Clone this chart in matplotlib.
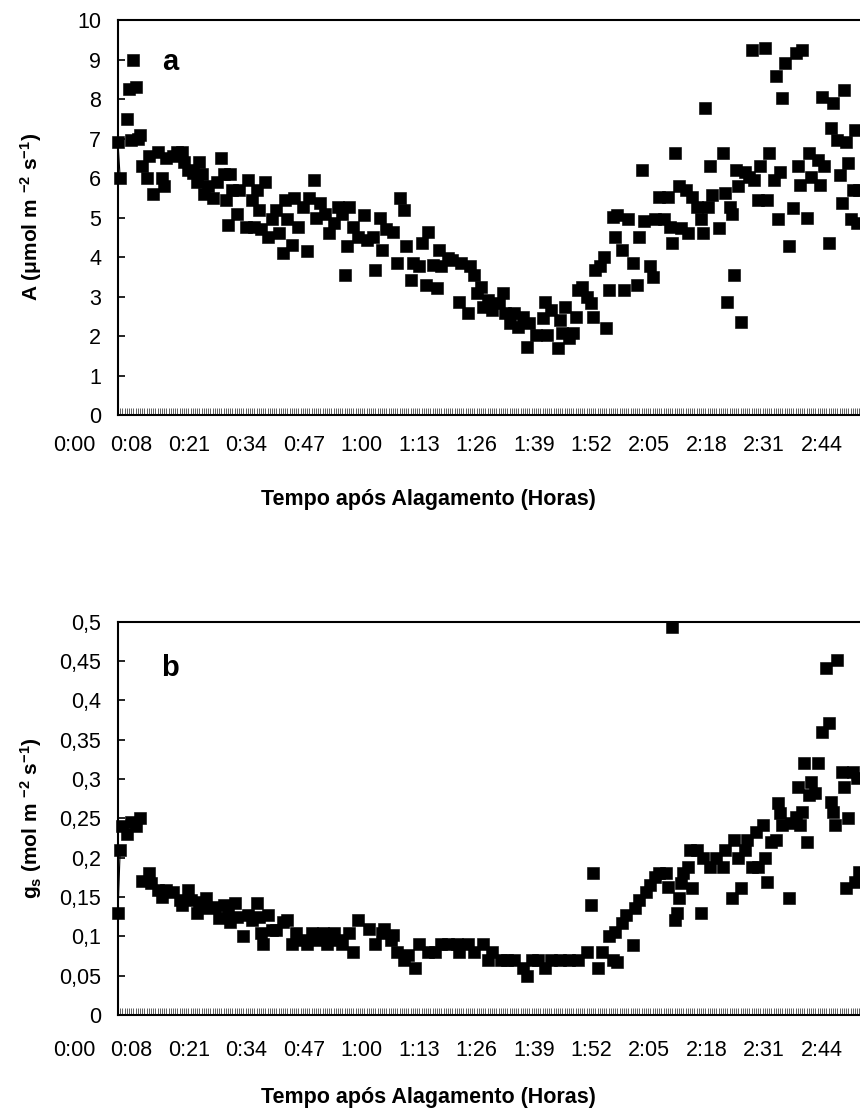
import matplotlib
matplotlib.use('Agg')
import matplotlib.pyplot as plt
import matplotlib.transforms as mtransforms
from matplotlib.ticker import MultipleLocator, FixedLocator

plt.rcParams.update({
    'font.family': 'Liberation Sans',
    'mathtext.fontset': 'custom',
    'mathtext.rm': 'Liberation Sans:bold',
    'mathtext.bf': 'Liberation Sans:bold',
    'mathtext.default': 'bf',
})

# ── data: sample index (30 s steps) and readings ─────────────────────────────
a_idx = [0, 1, 4, 5, 6, 7, 8, 9, 10, 11, 13, 14, 16, 18, 20, 21, 22, 25, 27, 29,
         30, 32, 34, 36, 37, 38, 39, 41, 43, 45, 47, 48, 49, 50, 51, 52, 54, 55, 58, 59,
         61, 62, 63, 64, 65, 67, 68, 70, 72, 73, 75, 76, 77, 79, 80, 82, 84, 86, 87, 89,
         90, 92, 94, 96, 98, 100, 102, 103, 104, 105, 107, 109,
         112, 113, 116, 117, 119, 120, 122, 125, 127, 128, 130, 131, 133, 134, 137, 138,
         140, 141, 143, 145, 146, 147, 150, 152, 155, 156, 159, 160, 162, 163, 165, 166,
         168, 170, 173, 175, 176, 178, 180, 182, 184, 186, 187, 190, 193, 194, 195, 197,
         200, 201, 202, 203, 205, 207, 208, 209, 211, 213, 215, 216, 217, 219, 221, 222, 223,
         225, 226, 227, 229, 230, 232, 234, 236, 237, 238, 239, 242, 243, 244, 246, 248,
         250, 251, 252, 253, 255, 256, 258, 259, 261, 263, 265, 266, 267, 268, 269, 270,
         273, 275, 276, 277, 278, 279, 280, 281, 282, 283, 285, 287, 288, 289, 291, 292,
         294, 295, 296, 298, 299, 300, 301, 302, 303, 305, 307, 308, 309, 310, 311, 313,
         314, 315, 318, 319, 320, 321, 323, 324, 325, 327, 328, 329, 330, 331, 332, 333,
         334, 335, 336, 337]
a_val = [6.9, 6.0, 7.5, 8.25, 6.97, 9.0, 8.3, 7.0, 7.1, 6.3, 6.0, 6.55, 5.6, 6.67, 6.0, 5.8, 6.5, 6.55, 6.65, 6.67,
         6.4, 6.2, 6.13, 5.9, 6.4, 6.1, 5.6, 5.8, 5.5, 5.9, 6.5, 6.1, 5.45, 4.8, 6.1, 5.7, 5.1, 5.7, 4.77, 5.95,
         5.45, 4.77, 5.7, 5.2, 4.7, 5.9, 4.5, 4.95, 5.2, 4.6, 4.1, 5.45, 4.95, 4.3, 5.5, 4.77, 5.27, 4.14, 5.5, 5.95,
         5.0, 5.37, 5.1, 4.6, 4.87, 5.27, 5.1, 3.55, 4.27, 5.27, 4.77, 4.5,
         5.07, 4.43, 4.5, 3.68, 5.0, 4.18, 4.7, 4.64, 3.85, 5.5, 5.2, 4.27, 3.42, 3.85, 3.76, 4.36,
         3.3, 4.64, 3.8, 3.22, 4.18, 3.76, 3.97, 3.93, 2.86, 3.85, 2.58, 3.76, 3.55, 3.09, 3.25, 2.74,
         2.92, 2.66, 2.84, 3.09, 2.58, 2.33, 2.58, 2.23, 2.48, 1.72, 2.33, 2.03, 2.46, 2.86, 2.03, 2.66,
         1.7, 2.41, 2.08, 2.74, 1.95, 2.08, 2.48, 3.17, 3.25, 2.99, 2.84, 2.48, 3.68, 3.76, 4.0, 2.2, 3.17,
         5.02, 4.5, 5.07, 4.18, 3.17, 4.95, 3.85, 3.3, 4.5, 6.2, 4.9, 3.76, 3.5, 4.95, 5.53, 4.95,
         5.53, 4.77, 4.36, 6.64, 5.8, 4.74, 5.7, 4.6, 5.53, 5.27, 4.95, 4.6, 7.78, 5.27, 6.3, 5.58,
         4.74, 6.64, 5.62, 2.86, 5.27, 5.1, 3.55, 6.2, 5.8, 2.36, 6.16, 6.03, 9.25, 5.95, 5.45, 6.3,
         9.28, 5.45, 6.64, 5.95, 8.57, 4.95, 6.16, 8.03, 8.92, 4.27, 5.24, 9.17, 6.3, 5.83, 9.25, 4.99,
         6.64, 6.03, 6.46, 5.83, 8.06, 6.3, 4.36, 7.27, 7.9, 6.97, 6.08, 5.37, 8.24, 6.9, 6.39, 4.95,
         5.7, 7.22, 4.87, 5.7]

b_idx = [0, 1, 2, 4, 6, 8, 10, 11, 14, 15, 18, 20, 22, 25, 28, 29, 32, 33, 36, 37,
         40, 41, 44, 46, 48, 50, 51, 53, 54, 57, 59, 61, 63, 64, 65, 66, 68, 70, 72, 75,
         77, 79, 81, 84, 86, 88, 90, 93, 95, 98, 100, 102, 105, 107, 109,
         114, 117, 120, 121, 124, 125, 127, 130, 132, 135, 137, 141, 144, 147, 150, 154, 155,
         159, 162, 166, 168, 170, 174, 177, 180, 184, 186, 188, 191, 194, 197, 201, 205, 209,
         213, 215, 216, 218, 220, 223,
         225, 226, 227, 229, 231, 234, 235, 237, 240, 242, 244, 246, 249, 250, 252, 253, 254,
         255, 256, 257, 259, 260, 261, 263, 265, 266, 269, 272, 275, 276, 279, 280, 282, 283,
         285, 286, 288, 290, 291, 293, 294, 295, 297, 299, 300, 301, 302, 305, 306, 308, 309,
         310, 311, 312, 313, 314, 315, 317, 318, 320, 322, 323, 324, 325, 326, 327, 329, 330,
         331, 332, 334, 335, 336, 337]
b_val = [0.13, 0.21, 0.24, 0.23, 0.245, 0.24, 0.25, 0.17, 0.18, 0.168, 0.159, 0.15, 0.159, 0.156, 0.146, 0.14, 0.159, 0.146, 0.13, 0.144,
         0.149, 0.136, 0.137, 0.123, 0.14, 0.13, 0.118, 0.142, 0.125, 0.1, 0.127, 0.121, 0.142, 0.125, 0.104, 0.09, 0.127, 0.108, 0.108, 0.118,
         0.121, 0.09, 0.104, 0.095, 0.09, 0.104, 0.095, 0.104, 0.09, 0.104, 0.095, 0.09, 0.104, 0.08, 0.121,
         0.11, 0.09, 0.104, 0.11, 0.095, 0.102, 0.08, 0.07, 0.076, 0.06, 0.09, 0.08, 0.08, 0.09, 0.09, 0.09, 0.08,
         0.09, 0.08, 0.09, 0.07, 0.08, 0.07, 0.07, 0.07, 0.06, 0.05, 0.07, 0.07, 0.06, 0.07, 0.07, 0.07, 0.07,
         0.08, 0.14, 0.18, 0.06, 0.08, 0.1,
         0.07, 0.105, 0.067, 0.117, 0.127, 0.089, 0.136, 0.146, 0.156, 0.165, 0.175, 0.18, 0.18, 0.163, 0.493, 0.121, 0.13,
         0.149, 0.168, 0.18, 0.188, 0.21, 0.161, 0.21, 0.13, 0.2, 0.188, 0.2, 0.188, 0.21, 0.149, 0.222, 0.2, 0.161,
         0.21, 0.222, 0.188, 0.233, 0.188, 0.241, 0.2, 0.169, 0.22, 0.222, 0.27, 0.257, 0.241, 0.149, 0.244, 0.252, 0.29,
         0.241, 0.258, 0.32, 0.22, 0.28, 0.296, 0.282, 0.32, 0.36, 0.441, 0.371, 0.271, 0.258, 0.241, 0.451, 0.309, 0.29,
         0.161, 0.25, 0.309, 0.169, 0.301, 0.182]

x_labels = ['0:00', '0:08', '0:21', '0:34', '0:47', '1:00', '1:13', '1:26',
            '1:39', '1:52', '2:05', '2:18', '2:31', '2:44']
a_ticks = list(range(0, 11))
a_ticklabels = [str(v) for v in a_ticks]
b_ticks = [0, 0.05, 0.1, 0.15, 0.2, 0.25, 0.3, 0.35, 0.4, 0.45, 0.5]
b_ticklabels = ['0', '0,05', '0,1', '0,15', '0,2', '0,25', '0,3', '0,35', '0,4', '0,45', '0,5']

XMAX = 345
LBL0, LBLSTEP = -20, 26.14   # label anchor positions on the category axis

fig = plt.figure(figsize=(8.6, 11.18), dpi=100)
axa = fig.add_axes([0.1372, 0.6288, 0.8826, 0.3533])
axb = fig.add_axes([0.1372, 0.0921, 0.8826, 0.3518])


def style(ax, ticks, ticklabels, ymax, lbl_off):
    ax.set_xlim(0, XMAX)
    ax.set_ylim(0, ymax)
    for s in ax.spines.values():
        s.set_linewidth(1.5)
    ax.spines['right'].set_visible(False)
    ax.yaxis.set_major_locator(FixedLocator(ticks))
    ax.set_yticklabels(ticklabels, fontsize=15.5)
    ax.tick_params(axis='y', direction='in', length=5, width=1.2, pad=12)
    ax.set_xticks([])
    ax.xaxis.set_minor_locator(MultipleLocator(1))
    ax.tick_params(axis='x', which='minor', direction='in', length=5,
                   width=0.6, color='#444444', top=False)
    trans = mtransforms.blended_transform_factory(ax.transData, ax.transAxes)
    for k, lab in enumerate(x_labels):
        ax.text(LBL0 + k * LBLSTEP, lbl_off, lab, transform=trans, ha='center',
                va='center', fontsize=15.5, clip_on=False)


style(axa, a_ticks, a_ticklabels, 10, -0.076)
style(axb, b_ticks, b_ticklabels, 0.5, -0.089)

for ax, xs, ys in [(axa, a_idx, a_val), (axb, b_idx, b_val)]:
    ax.plot(xs[:2], ys[:2], color='black', lw=0.8, clip_on=False)
    ax.scatter(xs, ys, marker='s', s=85, color='black', edgecolors='black',
               linewidths=0.4, clip_on=False, zorder=3)

axa.text(0.0685, 0.894, 'a', transform=axa.transAxes, fontsize=21,
         fontweight='bold', ha='center', va='center')
axb.text(0.0685, 0.882, 'b', transform=axb.transAxes, fontsize=21,
         fontweight='bold', ha='center', va='center')

fig.text(0.036, 0.8055, r'A ($\mu$mol m $^{-2}$ s$^{-1}$)', rotation=90,
         ha='center', va='center', fontsize=15, fontweight='bold')
fig.text(0.036, 0.2683, r'g$_{s}$ (mol m $^{-2}$ s$^{-1}$)', rotation=90,
         ha='center', va='center', fontsize=15, fontweight='bold')
fig.text(0.498, 1 - 500 / 1118, 'Tempo após Alagamento (Horas)', ha='center',
         va='center', fontsize=15.5, fontweight='bold')
fig.text(0.498, 1 - 1097 / 1118, 'Tempo após Alagamento (Horas)', ha='center',
         va='center', fontsize=15.5, fontweight='bold')

fig.savefig('out.png', dpi=100)
